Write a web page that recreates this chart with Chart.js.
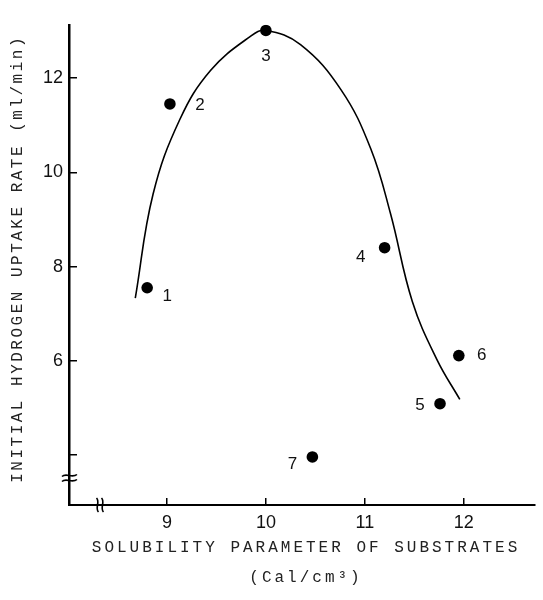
<!DOCTYPE html>
<html>
<head>
<meta charset="utf-8">
<script src="https://cdn.jsdelivr.net/npm/chart.js@4"></script>
<style>
  html, body { margin: 0; padding: 0; background: #fff; }
  canvas { display: block; }
</style>
</head>
<body>
<canvas id="c" width="543" height="600"></canvas>
<script>
// ---- data ----
const pointLabels = ['1', '2', '3', '4', '5', '6', '7'];
const solubility = [8.80, 9.03, 10.00, 11.20, 11.76, 11.95, 10.47];
const uptakeRate = [7.55, 11.45, 13.01, 8.40, 5.09, 6.11, 3.96];

// hand-drawn fitted curve, sampled along its path
const curveX = [8.68, 8.86, 9.13, 9.44, 9.84, 10.00, 10.35, 10.76, 11.06, 11.26, 11.48, 11.73, 11.96];
const curveY = [7.33, 9.54, 11.12, 12.16, 12.88, 13.01, 12.71, 11.75, 10.50, 9.12, 7.26, 6.02, 5.18];

const xTickValues = [9, 10, 11, 12];
const xTickLabels = ['9', '10', '11', '12'];
const yTickValues = [4, 6, 8, 10, 12];
const yTickLabels = ['', '6', '8', '10', '12'];

const xTitle = ['SOLUBILITY PARAMETER OF SUBSTRATES', '(Cal/cm\u00B3)'];
const yTitle = 'INITIAL HYDROGEN UPTAKE RATE (ml/min)';

// label offsets (pixels) of the point numbers relative to their dots
const labelDX = [20, 30, 0, -24, -20, 23, -20];
const labelDY = [9, 1, 26, 10, 2, 0, 7];

const titleSpacing = { x: '3px', y: '2.5px' };
const titleShift = { x: [4, 0], y: [0, -6] };

const decoPlugin = {
  id: 'deco',
  beforeDraw(chart) {
    ['x', 'y'].forEach(id => {
      const s = chart.scales[id];
      if (s && !s._spacedTitle) {
        const orig = s.drawTitle;
        s.drawTitle = function () {
          const ctx = this.ctx;
          ctx.save();
          try { ctx.letterSpacing = titleSpacing[id]; } catch (e) {}
          ctx.translate(titleShift[id][0], titleShift[id][1]);
          orig.call(this);
          ctx.restore();
        };
        s._spacedTitle = true;
      }
    });
  },
  afterDraw(chart) {
    const ctx = chart.ctx;
    const xs = chart.scales.x, ys = chart.scales.y;
    const area = chart.chartArea;
    ctx.save();
    // point numbers
    ctx.fillStyle = '#111';
    ctx.font = '17px "Liberation Sans", Arial, sans-serif';
    ctx.textAlign = 'center';
    ctx.textBaseline = 'middle';
    pointLabels.forEach((t, i) => {
      const px = xs.getPixelForValue(solubility[i]) + labelDX[i];
      const py = ys.getPixelForValue(uptakeRate[i]) + labelDY[i];
      ctx.fillText(t, px, py);
    });
    // axis break marks
    ctx.strokeStyle = '#000';
    ctx.lineWidth = 1.6;
    const bx = area.left;
    const byBreak = area.bottom - 27;
    [-2.5, 2.5].forEach(d => {
      const y = byBreak + d;
      ctx.beginPath();
      ctx.moveTo(bx - 7, y + 1);
      ctx.bezierCurveTo(bx - 3, y - 3, bx + 3, y + 3, bx + 8, y - 1);
      ctx.stroke();
    });
    const bxBreak = area.left + 31;
    const by = area.bottom;
    [-2.5, 2.5].forEach(d => {
      const x = bxBreak + d;
      ctx.beginPath();
      ctx.moveTo(x - 1, by - 7);
      ctx.bezierCurveTo(x + 3, by - 3, x - 3, by + 3, x + 1, by + 7);
      ctx.stroke();
    });
    ctx.restore();
  }
};

new Chart(document.getElementById('c'), {
  type: 'scatter',
  data: {
    datasets: [
      {
        label: 'curve',
        data: curveX.map((x, i) => ({ x: x, y: curveY[i] })),
        showLine: true,
        borderColor: '#000',
        borderWidth: 1.6,
        pointRadius: 0,
        tension: 0.4,
        fill: false
      },
      {
        label: 'substrates',
        data: solubility.map((x, i) => ({ x: x, y: uptakeRate[i] })),
        backgroundColor: '#000',
        borderColor: '#000',
        pointRadius: 5.8,
        pointBorderWidth: 0,
        showLine: false
      }
    ]
  },
  options: {
    responsive: false,
    animation: false,
    events: [],
    layout: { padding: { top: 13, right: 8, bottom: 0, left: 0 } },
    plugins: { legend: { display: false }, tooltip: { enabled: false } },
    scales: {
      x: {
        type: 'linear',
        min: 8.01,
        max: 12.72,
        afterBuildTicks: s => { s.ticks = xTickValues.map(v => ({ value: v })); },
        afterFit: s => { s.height = 95; },
        ticks: {
          callback: (v) => { const i = xTickValues.indexOf(v); return i >= 0 ? xTickLabels[i] : ''; },
          color: '#111',
          font: { family: '"Liberation Sans", Arial, sans-serif', size: 18 },
          padding: 14,
          maxRotation: 0,
          autoSkip: false
        },
        grid: { drawOnChartArea: false, color: '#000', lineWidth: 1.5, tickLength: -7 },
        border: { color: '#000', width: 2 },
        title: {
          display: true,
          text: xTitle,
          color: '#222',
          font: { family: '"Liberation Mono", "DejaVu Sans Mono", monospace', size: 16, lineHeight: 1.875 },
          padding: { top: 0, bottom: 7 }
        }
      },
      y: {
        type: 'linear',
        min: 2.94,
        max: 13.13,
        afterBuildTicks: s => { s.ticks = yTickValues.map(v => ({ value: v })); },
        afterFit: s => { s.width = 69; },
        ticks: {
          callback: (v) => { const i = yTickValues.indexOf(v); return i >= 0 ? yTickLabels[i] : ''; },
          color: '#111',
          font: { family: '"Liberation Sans", Arial, sans-serif', size: 18 },
          padding: 14,
          autoSkip: false
        },
        grid: { drawOnChartArea: false, color: '#000', lineWidth: 1.5, tickLength: -8 },
        border: { color: '#000', width: 2.5 },
        title: {
          display: true,
          text: yTitle,
          color: '#222',
          font: { family: '"Liberation Mono", "DejaVu Sans Mono", monospace', size: 16, lineHeight: 1.2 },
          padding: { top: 8, bottom: 0 }
        }
      }
    }
  },
  plugins: [decoPlugin]
});
</script>
</body>
</html>
